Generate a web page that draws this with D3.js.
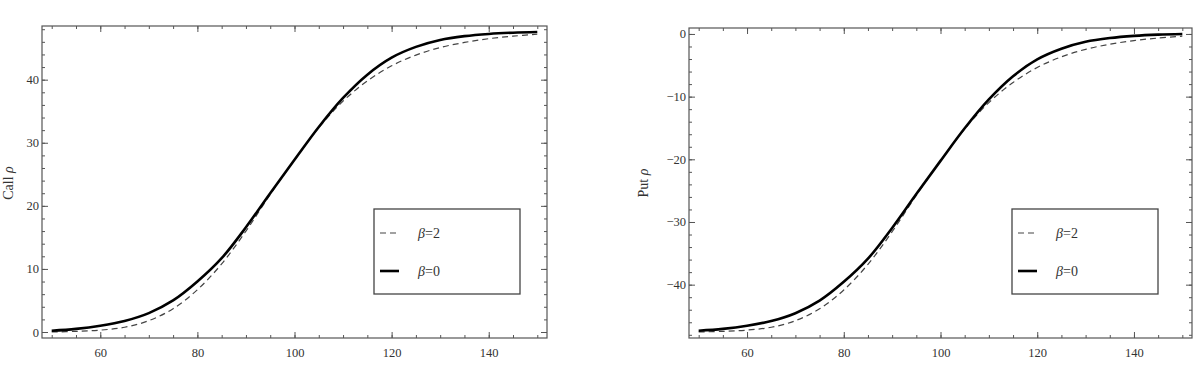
<!DOCTYPE html>
<html>
<head>
<script src="https://d3js.org/d3.v7.min.js"></script>
<style>
  body { margin: 0; background: #fff; }
  svg text { font-family: "Liberation Serif", "Times New Roman", serif; }
  .frame { fill: none; stroke: #555; stroke-width: 1.2px; }
  .beta0 { fill: none; stroke: #000; stroke-width: 2.6px; }
  .beta2 { fill: none; stroke: #444; stroke-width: 1.2px; stroke-dasharray: 6,4; }
</style>
</head>
<body>
<svg id="chart" width="1201" height="369"></svg>
<script>
// underlying price
const spot = [50, 55, 60, 65, 70, 75, 80, 85, 90, 95, 100, 105, 110, 115, 120, 125, 130, 135, 140, 145, 150];

// call rho
const callBeta0 = [0.2, 0.5, 1.0, 1.75, 3.0, 5.0, 8.0, 11.7, 16.6, 22.0, 27.3, 32.5, 37.1, 40.8, 43.5, 45.2, 46.3, 46.9, 47.25, 47.45, 47.55];
const callBeta2 = [0.0, 0.1, 0.3, 0.75, 1.8, 3.7, 6.7, 10.8, 16.0, 21.8, 27.3, 32.4, 36.6, 39.8, 42.2, 43.9, 45.1, 45.9, 46.5, 46.9, 47.2];

// put rho
const putBeta0 = [-47.35, -47.05, -46.55, -45.8, -44.55, -42.55, -39.55, -35.85, -30.95, -25.55, -20.25, -15.05, -10.45, -6.75, -4.05, -2.35, -1.25, -0.65, -0.3, -0.1, 0.0];
const putBeta2 = [-47.55, -47.45, -47.25, -46.8, -45.75, -43.85, -40.85, -36.75, -31.55, -25.75, -20.25, -15.15, -10.95, -7.75, -5.35, -3.65, -2.45, -1.65, -1.05, -0.65, -0.35];

const xTicks = [60, 80, 100, 120, 140];
const xMinor = d3.range(50, 151, 5);
const callTicks = [0, 10, 20, 30, 40];
const callMinor = d3.range(0, 49, 2);
const putTicks = [-40, -30, -20, -10, 0];
const putMinor = d3.range(-48, 1, 2);

const legendItems = [
  { label: "2", cls: "beta2" },
  { label: "0", cls: "beta0" }
];

const svg = d3.select("#chart");

function styleAxis(sel) {
  sel.attr("font-family", null).attr("font-size", null);
  sel.select(".domain").remove();
  sel.selectAll(".tick line").attr("stroke", "#555");
  sel.selectAll(".tick text")
    .attr("fill", "#333")
    .style("font-family", "'Liberation Serif', 'Times New Roman', serif")
    .style("font-size", "12.5px");
}

function panel(p) {
  const x = d3.scaleLinear().domain([48, 152]).range([p.left, p.right]);
  const y = d3.scaleLinear().domain(p.yDomain).range([p.bottom, p.top]);
  const g = svg.append("g");

  // minor ticks on all four sides
  g.append("g").attr("transform", `translate(0,${p.bottom})`)
    .call(d3.axisBottom(x).tickValues(xMinor).tickSize(-3).tickFormat("")).call(styleAxis);
  g.append("g").attr("transform", `translate(0,${p.top})`)
    .call(d3.axisTop(x).tickValues(xMinor).tickSize(-3).tickFormat("")).call(styleAxis);
  g.append("g").attr("transform", `translate(${p.left},0)`)
    .call(d3.axisLeft(y).tickValues(p.yMinor).tickSize(-3).tickFormat("")).call(styleAxis);
  g.append("g").attr("transform", `translate(${p.right},0)`)
    .call(d3.axisRight(y).tickValues(p.yMinor).tickSize(-3).tickFormat("")).call(styleAxis);

  // major ticks
  g.append("g").attr("transform", `translate(0,${p.bottom})`)
    .call(d3.axisBottom(x).tickValues(xTicks).tickSize(-6).tickPadding(10)).call(styleAxis);
  g.append("g").attr("transform", `translate(0,${p.top})`)
    .call(d3.axisTop(x).tickValues(xTicks).tickSize(-6).tickFormat("")).call(styleAxis);
  g.append("g").attr("transform", `translate(${p.left},0)`)
    .call(d3.axisLeft(y).tickValues(p.yTicks).tickSize(-6).tickPadding(3)).call(styleAxis);
  g.append("g").attr("transform", `translate(${p.right},0)`)
    .call(d3.axisRight(y).tickValues(p.yTicks).tickSize(-6).tickFormat("")).call(styleAxis);

  g.append("rect").attr("class", "frame")
    .attr("x", p.left).attr("y", p.top)
    .attr("width", p.right - p.left).attr("height", p.bottom - p.top);

  const line = d3.line().x(d => x(d[0])).y(d => y(d[1])).curve(d3.curveCatmullRom.alpha(0.5));
  g.append("path").attr("class", "beta2").attr("d", line(d3.zip(spot, p.beta2)));
  g.append("path").attr("class", "beta0").attr("d", line(d3.zip(spot, p.beta0)));

  // y label
  const lab = g.append("text")
    .attr("transform", `translate(${p.labelX},183) rotate(-90)`)
    .attr("text-anchor", "middle").attr("dy", "0.35em")
    .style("font-size", "14px").style("fill", "#333");
  lab.append("tspan").text(p.label + " ");
  lab.append("tspan").style("font-style", "italic").text("ρ");

  // legend
  const lg = g.append("g").attr("transform", `translate(${p.legendX},209)`);
  lg.append("rect").attr("width", 146).attr("height", 85)
    .attr("fill", "#fff").attr("stroke", "#444").attr("stroke-width", 1.3);
  legendItems.forEach((it, i) => {
    const yy = 24 + i * 38;
    lg.append("line").attr("class", it.cls)
      .attr("x1", 6).attr("x2", 25).attr("y1", yy).attr("y2", yy);
    const t = lg.append("text").attr("x", 44).attr("y", yy).attr("dy", "0.35em")
      .style("font-size", "14px").style("fill", "#333");
    t.append("tspan").style("font-style", "italic").text("β");
    t.append("tspan").text("=" + it.label);
  });
}

panel({
  left: 42, right: 547, top: 26, bottom: 338,
  yDomain: [-0.95, 48.51], yTicks: callTicks, yMinor: callMinor,
  beta0: callBeta0, beta2: callBeta2, label: "Call", labelX: 8, legendX: 374
});

panel({
  left: 689, right: 1192, top: 28, bottom: 338,
  yDomain: [-48.51, 0.95], yTicks: putTicks, yMinor: putMinor,
  beta0: putBeta0, beta2: putBeta2, label: "Put", labelX: 643, legendX: 1012
});
</script>
</body>
</html>
